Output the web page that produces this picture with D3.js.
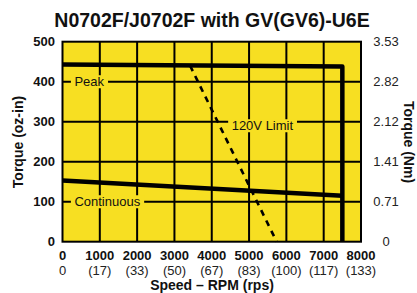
<!DOCTYPE html>
<html><head><meta charset="utf-8">
<script src="https://cdn.jsdelivr.net/npm/d3@7"></script>
<style>body{margin:0;background:#fff}svg{display:block;font-family:"Liberation Sans",Arial,sans-serif}</style>
</head><body><svg id="c" width="417" height="293"></svg>
<script>
const title = "N0702F/J0702F with GV(GV6)-U6E";
const speedTicks = [0,1000,2000,3000,4000,5000,6000,7000,8000];
const rpsLabels = ["0","(17)","(33)","(50)","(67)","(83)","(100)","(117)","(133)"];
const torqueTicks = [0,100,200,300,400,500];
const nmLabels = ["0","0.71","1.41","2.12","2.82","3.53"];
const peakSpeed = [0,7500,7500];
const peakTorque = [443,438,0];
const contSpeed = [0,7500];
const contTorque = [153,115];
const limitSpeed = [3420,5740];
const limitTorque = [440,0];
const labels = [
  {text:"Peak", speed:225, torque:400},
  {text:"Continuous", speed:225, torque:100},
  {text:"120V Limit", speed:4440, torque:290}
];

const svg = d3.select("#c");
const L=62.5, R=361, T=41.7, B=241.7;
const x = d3.scaleLinear().domain([0,8000]).range([L,R]);
const y = d3.scaleLinear().domain([0,500]).range([B,T]);
const yellow = "#F7DF22";

svg.append("text").attr("x",212).attr("y",27).attr("text-anchor","middle")
  .attr("font-size",19.5).attr("font-weight","bold").attr("fill","#111").text(title);

svg.append("rect").attr("x",L).attr("y",T).attr("width",R-L).attr("height",B-T).attr("fill",yellow);

const g = svg.append("g");
g.selectAll(".vg").data(speedTicks.slice(1,-1)).join("line")
  .attr("x1",d=>x(d)).attr("x2",d=>x(d)).attr("y1",T).attr("y2",B)
  .attr("stroke","#000").attr("stroke-width",2);
g.selectAll(".hg").data(torqueTicks.slice(1,-1)).join("line")
  .attr("y1",d=>y(d)).attr("y2",d=>y(d)).attr("x1",L).attr("x2",R)
  .attr("stroke","#000").attr("stroke-width",2);

labels.forEach(l=>{
  const t = svg.append("text").attr("x",x(l.speed)+3.5).attr("y",y(l.torque)).attr("dy","0.35em")
    .attr("font-size",13).attr("fill","#111").text(l.text);
  const bb = t.node().getBBox();
  svg.insert("rect", ()=>t.node()).attr("x",bb.x-3.5).attr("y",bb.y+1).attr("width",bb.width+7).attr("height",bb.height-2).attr("fill",yellow);
});

const line = d3.line().x(d=>x(d[0])).y(d=>y(d[1]));
svg.append("path").datum(contSpeed.map((s,i)=>[s,contTorque[i]])).attr("d",line)
  .attr("fill","none").attr("stroke","#000").attr("stroke-width",4.5);
svg.append("path").datum(peakSpeed.map((s,i)=>[s,peakTorque[i]])).attr("d",line)
  .attr("fill","none").attr("stroke","#000").attr("stroke-width",4.5).attr("stroke-linejoin","round");
svg.append("path").datum(limitSpeed.map((s,i)=>[s,limitTorque[i]])).attr("d",line)
  .attr("fill","none").attr("stroke","#000").attr("stroke-width",2.6).attr("stroke-dasharray","6,5.5");

svg.append("rect").attr("x",L).attr("y",T).attr("width",R-L).attr("height",B-T)
  .attr("fill","none").attr("stroke","#000").attr("stroke-width",2);

svg.selectAll(".yl").data(torqueTicks).join("text")
  .attr("x",55).attr("y",d=>y(d)).attr("dy","0.3em").attr("text-anchor","end")
  .attr("font-size",13).attr("font-weight","bold").attr("fill","#111").text(d=>d);
svg.selectAll(".yr").data(torqueTicks).join("text")
  .attr("x",386).attr("y",d=>y(d)).attr("dy","0.35em").attr("text-anchor","middle")
  .attr("font-size",13).attr("fill","#222").text((d,i)=>nmLabels[i]);
svg.selectAll(".xl").data(speedTicks).join("text")
  .attr("x",d=>x(d)).attr("y",260).attr("text-anchor","middle")
  .attr("font-size",13).attr("font-weight","bold").attr("fill","#111").text(d=>d);
svg.selectAll(".xr").data(speedTicks).join("text")
  .attr("x",d=>x(d)).attr("y",275).attr("text-anchor","middle")
  .attr("font-size",13).attr("fill","#222").text((d,i)=>rpsLabels[i]);

svg.append("text").attr("x",212).attr("y",290).attr("text-anchor","middle")
  .attr("font-size",14).attr("font-weight","bold").attr("fill","#111").text("Speed – RPM (rps)");
svg.append("text").attr("transform","translate(23,142) rotate(-90)").attr("text-anchor","middle")
  .attr("font-size",14).attr("font-weight","bold").attr("fill","#111").text("Torque (oz-in)");
svg.append("text").attr("transform","translate(404,142) rotate(90)").attr("text-anchor","middle")
  .attr("font-size",14).attr("font-weight","bold").attr("fill","#111").text("Torque (Nm)");
</script></body></html>
